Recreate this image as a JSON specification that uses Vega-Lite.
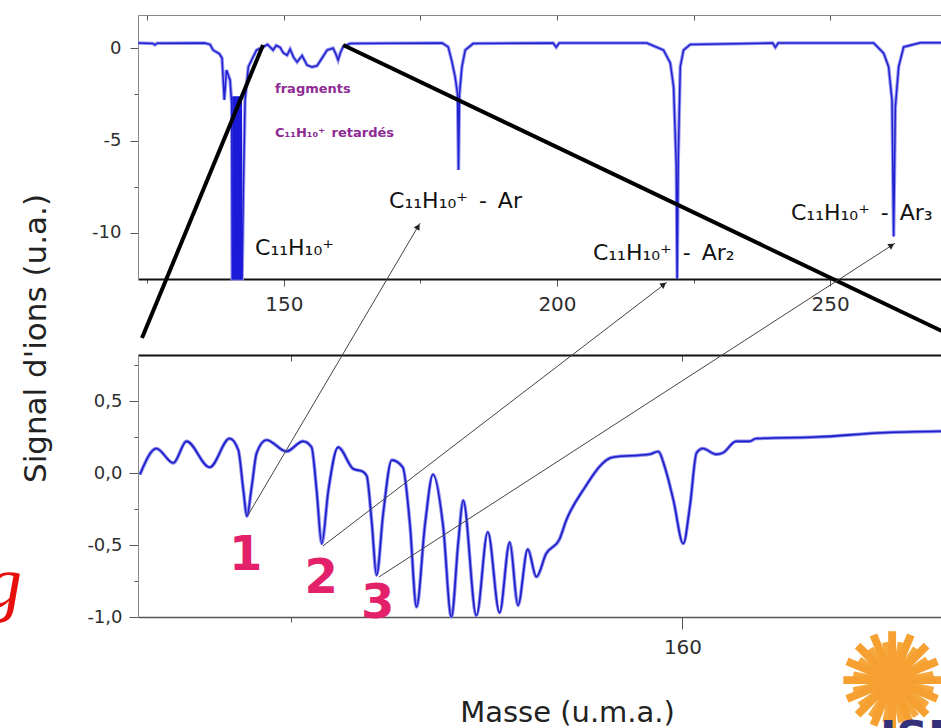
{
  "$schema": "https://vega.github.io/schema/vega-lite/v6.json",
  "autosize": {"type": "none"},
  "padding": {"left": 138, "top": 15, "right": 0, "bottom": 111},
  "width": 803,
  "height": 602,
  "background": "white",
  "config": {
    "view": {"stroke": null},
    "axis": {"grid": false, "labelFont": "DejaVu Sans", "labelFontSize": 18, "labelColor": "#2e2e2e", "domainColor": "#888", "tickColor": "#555", "titleFont": "DejaVu Sans"}
  },
  "datasets": {
    "top": [
      {"m":123.3,"v":0.28},{"m":126.0,"v":0.26},{"m":126.4,"v":0.18},{"m":126.8,"v":0.27},{"m":135.5,"v":0.28},{"m":136.5,"v":0.2},{"m":137.04,"v":-0.1},{"m":138.2,"v":-0.3},{"m":138.68,"v":-0.53},{"m":139.1,"v":-2.8},{"m":139.5,"v":-1.18},{"m":140.15,"v":-1.72},{"m":140.45,"v":-3.0},{"m":140.55,"v":-12.5},{"m":142.35,"v":-12.5},{"m":142.6,"v":-7.5},{"m":142.9,"v":-2.8},{"m":143.5,"v":-1.0},{"m":145.0,"v":-0.1},{"m":146.25,"v":0.07},{"m":147.0,"v":0.2},{"m":148.03,"v":-0.1},{"m":148.6,"v":0.15},{"m":149.31,"v":0.05},{"m":149.9,"v":-0.25},{"m":150.59,"v":-0.38},{"m":151.14,"v":-0.05},{"m":151.8,"v":-0.5},{"m":152.42,"v":-0.75},{"m":153.34,"v":-0.4},{"m":154.25,"v":-0.92},{"m":155.17,"v":-1.02},{"m":156.08,"v":-0.95},{"m":157.0,"v":-0.53},{"m":157.92,"v":-0.1},{"m":159.01,"v":0.0},{"m":159.5,"v":-0.3},{"m":159.93,"v":-0.64},{"m":160.4,"v":-0.2},{"m":160.85,"v":0.07},{"m":162.13,"v":0.25},{"m":179.0,"v":0.28},{"m":180.08,"v":0.07},{"m":180.75,"v":-0.7},{"m":181.36,"v":-1.56},{"m":181.8,"v":-2.5},{"m":181.97,"v":-6.6},{"m":182.15,"v":-2.5},{"m":182.59,"v":-1.02},{"m":183.2,"v":-0.1},{"m":184.65,"v":0.25},{"m":199.3,"v":0.28},{"m":199.86,"v":0.05},{"m":200.4,"v":0.28},{"m":216.46,"v":0.28},{"m":219.5,"v":-0.1},{"m":220.74,"v":-0.8},{"m":221.35,"v":-2.1},{"m":221.84,"v":-6.4},{"m":222.0,"v":-12.5},{"m":222.2,"v":-6.0},{"m":222.57,"v":-1.0},{"m":223.17,"v":-0.1},{"m":224.4,"v":0.2},{"m":239.5,"v":0.28},{"m":239.97,"v":0.05},{"m":240.5,"v":0.28},{"m":257.97,"v":0.28},{"m":259.8,"v":-0.27},{"m":260.7,"v":-1.0},{"m":261.33,"v":-2.8},{"m":261.63,"v":-10.2},{"m":261.94,"v":-3.2},{"m":262.55,"v":-1.0},{"m":263.47,"v":0.07},{"m":266.5,"v":0.3},{"m":270.3,"v":0.3}
    ],
    "topbar": [{"m1":140.55,"m2":142.35,"v1":-12.5,"v2":-2.6}],
    "zoomlines": [
      {"l":"A","m":146.19,"v":0.175},{"l":"A","m":124.03,"v":-15.7},
      {"l":"B","m":160.85,"v":0.175},{"l":"B","m":273.85,"v":-15.8}
    ],
    "toplabels": [
      {"t":"C₁₁H₁₀⁺","m":144.73,"v":-11.2},
      {"t":"C₁₁H₁₀⁺\u2002-\u2002Ar","m":169.27,"v":-8.655},
      {"t":"C₁₁H₁₀⁺\u2002-\u2002Ar₂","m":206.58,"v":-11.47},
      {"t":"C₁₁H₁₀⁺\u2002-\u2002Ar₃","m":242.84,"v":-9.305}
    ],
    "toppurple": [
      {"t":"fragments","m":148.39,"v":-2.425},
      {"t":"C₁₁H₁₀⁺\u2002retardés","m":148.39,"v":-4.81}
    ],
    "bottom": [
      {"m":146.15,"v":-0.01},{"m":146.57,"v":0.17},{"m":147.0,"v":0.07},{"m":147.34,"v":0.22},{"m":147.93,"v":0.04},{"m":148.44,"v":0.24},{"m":148.66,"v":0.16},{"m":148.79,"v":-0.12},{"m":148.88,"v":-0.3},{"m":149.0,"v":-0.1},{"m":149.13,"v":0.14},{"m":149.38,"v":0.23},{"m":149.89,"v":0.15},{"m":150.31,"v":0.22},{"m":150.53,"v":0.18},{"m":150.66,"v":-0.12},{"m":150.79,"v":-0.49},{"m":150.96,"v":-0.12},{"m":151.21,"v":0.18},{"m":151.59,"v":0.03},{"m":151.84,"v":0.01},{"m":151.94,"v":-0.02},{"m":152.07,"v":-0.35},{"m":152.19,"v":-0.71},{"m":152.36,"v":-0.28},{"m":152.58,"v":0.09},{"m":152.86,"v":0.04},{"m":153.04,"v":-0.35},{"m":153.21,"v":-0.93},{"m":153.43,"v":-0.35},{"m":153.63,"v":-0.01},{"m":153.89,"v":-0.37},{"m":154.1,"v":-1.0},{"m":154.28,"v":-0.47},{"m":154.4,"v":-0.19},{"m":154.74,"v":-0.99},{"m":155.03,"v":-0.41},{"m":155.33,"v":-0.97},{"m":155.59,"v":-0.48},{"m":155.8,"v":-0.92},{"m":156.05,"v":-0.53},{"m":156.27,"v":-0.72},{"m":156.52,"v":-0.56},{"m":156.86,"v":-0.46},{"m":157.03,"v":-0.33},{"m":157.46,"v":-0.12},{"m":158.22,"v":0.11},{"m":159.16,"v":0.13},{"m":159.38,"v":0.15},{"m":159.55,"v":0.04},{"m":159.77,"v":-0.19},{"m":160.02,"v":-0.49},{"m":160.19,"v":-0.23},{"m":160.36,"v":0.14},{"m":160.52,"v":0.17},{"m":160.86,"v":0.13},{"m":161.03,"v":0.14},{"m":161.37,"v":0.22},{"m":161.71,"v":0.22},{"m":161.88,"v":0.24},{"m":163.41,"v":0.25},{"m":165.11,"v":0.28},{"m":166.6,"v":0.29}
    ],
    "nums": [
      {"t":"1","m":148.85,"v":-0.674},
      {"t":"2","m":150.78,"v":-0.833},
      {"t":"3","m":152.22,"v":-1.007}
    ],
    "arrows": [
      {"a":1,"m":148.91,"v":-0.292},{"a":1,"m":153.3,"v":1.736},
      {"a":2,"m":150.82,"v":-0.507},{"a":2,"m":159.61,"v":1.326},
      {"a":3,"m":152.25,"v":-0.722},{"a":3,"m":165.43,"v":1.597}
    ],
    "heads": [
      {"m":153.25,"v":1.712,"dir":30.5},
      {"m":159.52,"v":1.31,"dir":52.5},
      {"m":165.34,"v":1.582,"dir":57.1}
    ],
    "gtext": [{"t":"g","m":143.14,"v":-0.93}],
    "sun": [{"t":"✺","m":165.35,"v":-1.458}],
    "suntext": [{"t":"✺","m":165.35,"v":-1.5}],
    "navy": [{"t":"ISM","m":165.04,"v":-1.70}]
  },
  "layer": [
    {
      "layer": [
        {
          "data": {"name": "top"},
          "mark": {"type": "line", "color": "#9a9af0", "strokeWidth": 3.5},
          "encoding": {
            "x": {"field": "m", "type": "quantitative", "scale": {"domain": [123.3, 270.3], "nice": false, "zero": false},
                  "axis": {"orient": "bottom", "offset": -338, "values": [125, 150, 175, 200, 225, 250], "labelExpr": "datum.value % 50 == 0 ? datum.label : ''", "tickSize": {"condition": {"test": "datum.value % 50 == 0", "value": 7}, "value": 4}, "labelPadding": 8, "labelFontSize": 20, "title": null, "domainColor": "#111", "domainWidth": 2}},
            "y": {"field": "v", "type": "quantitative", "scale": {"domain": [-12.5, 1.8], "range": [264, 0], "nice": false, "zero": false},
                  "axis": {"orient": "left", "values": [0, -2.5, -5, -7.5, -10], "labelExpr": "datum.value % 5 == 0 ? replace(datum.label, '−', '-') : ''", "tickSize": {"condition": {"test": "datum.value % 5 == 0", "value": 8}, "value": 4}, "labelPadding": 9, "title": null}}
          }
        },
        {
          "data": {"name": "top"},
          "mark": {"type": "line", "color": "#2020d0", "strokeWidth": 1.5},
          "encoding": {
            "x": {"field": "m", "type": "quantitative", "scale": {"domain": [123.3, 270.3], "nice": false, "zero": false},
                  "axis": {"orient": "top", "values": [125, 150, 175, 200, 225, 250], "labels": false, "tickSize": -5, "title": null}},
            "y": {"field": "v", "type": "quantitative", "scale": {"domain": [-12.5, 1.8], "range": [264, 0], "nice": false, "zero": false}}
          }
        },
        {
          "data": {"name": "topbar"},
          "mark": {"type": "rect", "color": "#1a1ad8"},
          "encoding": {
            "x": {"field": "m1", "type": "quantitative", "scale": {"domain": [123.3, 270.3], "nice": false, "zero": false}, "axis": null},
            "x2": {"field": "m2"},
            "y": {"field": "v1", "type": "quantitative", "scale": {"domain": [-12.5, 1.8], "range": [264, 0], "nice": false, "zero": false}},
            "y2": {"field": "v2"}
          }
        },
        {
          "data": {"name": "zoomlines"},
          "mark": {"type": "line", "color": "#000", "strokeWidth": 4},
          "encoding": {
            "x": {"field": "m", "type": "quantitative", "scale": {"domain": [123.3, 270.3], "nice": false, "zero": false}, "axis": null},
            "y": {"field": "v", "type": "quantitative", "scale": {"domain": [-12.5, 1.8], "range": [264, 0], "nice": false, "zero": false}},
            "detail": {"field": "l", "type": "nominal"}
          }
        },
        {
          "data": {"name": "toplabels"},
          "mark": {"type": "text", "font": "DejaVu Sans", "fontSize": 22, "color": "#111", "align": "left", "baseline": "alphabetic"},
          "encoding": {
            "x": {"field": "m", "type": "quantitative", "scale": {"domain": [123.3, 270.3], "nice": false, "zero": false}, "axis": null},
            "y": {"field": "v", "type": "quantitative", "scale": {"domain": [-12.5, 1.8], "range": [264, 0], "nice": false, "zero": false}},
            "text": {"field": "t"}
          }
        },
        {
          "data": {"name": "toppurple"},
          "mark": {"type": "text", "font": "DejaVu Sans", "fontSize": 13, "fontWeight": "bold", "color": "#8e2b94", "align": "left", "baseline": "alphabetic"},
          "encoding": {
            "x": {"field": "m", "type": "quantitative", "scale": {"domain": [123.3, 270.3], "nice": false, "zero": false}, "axis": null},
            "y": {"field": "v", "type": "quantitative", "scale": {"domain": [-12.5, 1.8], "range": [264, 0], "nice": false, "zero": false}},
            "text": {"field": "t"}
          }
        }
      ],
      "resolve": {"axis": {"x": "independent"}}
    },
    {
      "layer": [
        {
          "data": {"name": "bottom"},
          "mark": {"type": "line", "color": "#8a8aee", "strokeWidth": 3.5, "interpolate": "monotone"},
          "encoding": {
            "x": {"field": "m", "type": "quantitative", "scale": {"domain": [146.1, 166.6], "nice": false, "zero": false},
                  "axis": {"orient": "bottom", "values": [150, 160], "labelExpr": "datum.value == 160 ? datum.label : ''", "tickSize": {"condition": {"test": "datum.value == 160", "value": 12}, "value": 5}, "labelPadding": 8, "labelFontSize": 20, "domainColor": "#555", "domainWidth": 1.5,
                           "title": "Masse (u.m.a.)", "titleX": 429, "titleY": 95, "titleAlign": "center", "titleBaseline": "middle", "titleFontSize": 29, "titleFontWeight": "normal", "titleColor": "#222"}},
            "y": {"field": "v", "type": "quantitative", "scale": {"domain": [-1.0, 0.82], "range": [602, 340], "nice": false, "zero": false},
                  "axis": {"orient": "left", "values": [-1, -0.75, -0.5, -0.25, 0, 0.25, 0.5, 0.75], "labelExpr": "abs(datum.value*2 - round(datum.value*2)) < 0.01 ? replace(replace(format(datum.value, '.1f'), '.', ','), '−', '-') : ''", "tickSize": {"condition": {"test": "abs(datum.value*2 - round(datum.value*2)) < 0.01", "value": 9}, "value": 4}, "labelPadding": 7,
                           "title": "Signal d'ions (u.a.)", "titleX": -102, "titleY": 323, "titleAngle": -90, "titleAlign": "center", "titleBaseline": "middle", "titleFontSize": 31, "titleFontWeight": "normal", "titleColor": "#222"}}
          }
        },
        {
          "data": {"name": "bottom"},
          "mark": {"type": "line", "color": "#1c1cc8", "strokeWidth": 1.6, "interpolate": "monotone"},
          "encoding": {
            "x": {"field": "m", "type": "quantitative", "scale": {"domain": [146.1, 166.6], "nice": false, "zero": false},
                  "axis": {"orient": "top", "offset": -340, "values": [150, 160], "labels": false, "tickSize": -6, "domainColor": "#111", "domainWidth": 2, "title": null}},
            "y": {"field": "v", "type": "quantitative", "scale": {"domain": [-1.0, 0.82], "range": [602, 340], "nice": false, "zero": false}}
          }
        },
        {
          "data": {"name": "arrows"},
          "mark": {"type": "line", "color": "#444", "strokeWidth": 1},
          "encoding": {
            "x": {"field": "m", "type": "quantitative", "scale": {"domain": [146.1, 166.6], "nice": false, "zero": false}, "axis": null},
            "y": {"field": "v", "type": "quantitative", "scale": {"domain": [-1.0, 0.82], "range": [602, 340], "nice": false, "zero": false}},
            "detail": {"field": "a", "type": "nominal"}
          }
        },
        {
          "data": {"name": "heads"},
          "mark": {"type": "point", "shape": "triangle-up", "filled": true, "size": 45, "color": "#222", "opacity": 1},
          "encoding": {
            "x": {"field": "m", "type": "quantitative", "scale": {"domain": [146.1, 166.6], "nice": false, "zero": false}, "axis": null},
            "y": {"field": "v", "type": "quantitative", "scale": {"domain": [-1.0, 0.82], "range": [602, 340], "nice": false, "zero": false}},
            "angle": {"field": "dir", "type": "quantitative", "scale": null}
          }
        },
        {
          "data": {"name": "nums"},
          "mark": {"type": "text", "font": "DejaVu Sans", "fontSize": 48, "fontWeight": "bold", "color": "#e3206a", "align": "center", "baseline": "alphabetic"},
          "encoding": {
            "x": {"field": "m", "type": "quantitative", "scale": {"domain": [146.1, 166.6], "nice": false, "zero": false}, "axis": null},
            "y": {"field": "v", "type": "quantitative", "scale": {"domain": [-1.0, 0.82], "range": [602, 340], "nice": false, "zero": false}},
            "text": {"field": "t"}
          }
        },
        {
          "data": {"name": "gtext"},
          "mark": {"type": "text", "font": "Liberation Serif", "fontSize": 74, "fontStyle": "italic", "color": "#e8100c", "align": "right", "baseline": "alphabetic"},
          "encoding": {
            "x": {"field": "m", "type": "quantitative", "scale": {"domain": [146.1, 166.6], "nice": false, "zero": false}, "axis": null},
            "y": {"field": "v", "type": "quantitative", "scale": {"domain": [-1.0, 0.82], "range": [602, 340], "nice": false, "zero": false}},
            "text": {"field": "t"}
          }
        },
        {
          "data": {"name": "sun"},
          "mark": {"type": "point", "shape": "circle", "filled": true, "size": 1500, "color": "#f5a030", "opacity": 1},
          "encoding": {
            "x": {"field": "m", "type": "quantitative", "scale": {"domain": [146.1, 166.6], "nice": false, "zero": false}, "axis": null},
            "y": {"field": "v", "type": "quantitative", "scale": {"domain": [-1.0, 0.82], "range": [602, 340], "nice": false, "zero": false}}
          }
        },
        {
          "data": {"name": "suntext"},
          "mark": {"type": "text", "font": "DejaVu Sans", "fontSize": 112, "angle": 11, "color": "#f7a83c", "align": "center", "baseline": "middle"},
          "encoding": {
            "x": {"field": "m", "type": "quantitative", "scale": {"domain": [146.1, 166.6], "nice": false, "zero": false}, "axis": null},
            "y": {"field": "v", "type": "quantitative", "scale": {"domain": [-1.0, 0.82], "range": [602, 340], "nice": false, "zero": false}},
            "text": {"field": "t"}
          }
        },
        {
          "data": {"name": "suntext"},
          "mark": {"type": "text", "font": "DejaVu Sans", "fontSize": 134, "color": "#f5a030", "align": "center", "baseline": "middle"},
          "encoding": {
            "x": {"field": "m", "type": "quantitative", "scale": {"domain": [146.1, 166.6], "nice": false, "zero": false}, "axis": null},
            "y": {"field": "v", "type": "quantitative", "scale": {"domain": [-1.0, 0.82], "range": [602, 340], "nice": false, "zero": false}},
            "text": {"field": "t"}
          }
        },
        {
          "data": {"name": "navy"},
          "mark": {"type": "text", "font": "DejaVu Sans", "fontSize": 44, "fontWeight": "bold", "color": "#35307a", "align": "left", "baseline": "top"},
          "encoding": {
            "x": {"field": "m", "type": "quantitative", "scale": {"domain": [146.1, 166.6], "nice": false, "zero": false}, "axis": null},
            "y": {"field": "v", "type": "quantitative", "scale": {"domain": [-1.0, 0.82], "range": [602, 340], "nice": false, "zero": false}},
            "text": {"field": "t"}
          }
        }
      ],
      "resolve": {"axis": {"x": "independent"}}
    }
  ],
  "resolve": {"scale": {"x": "independent", "y": "independent"}}
}
